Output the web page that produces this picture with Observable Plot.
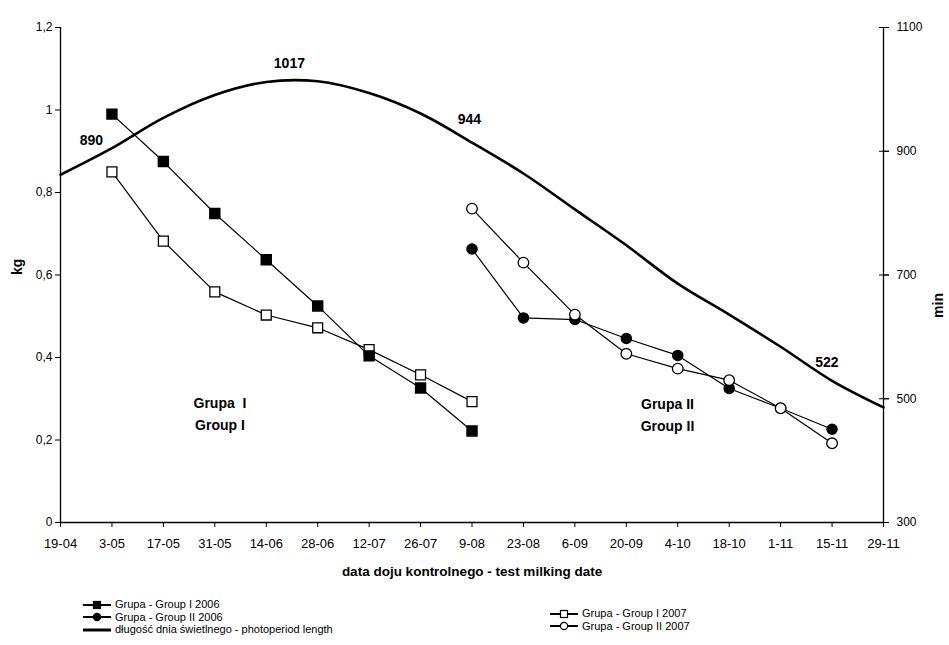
<!DOCTYPE html>
<html><head><meta charset="utf-8">
<script src="https://cdn.jsdelivr.net/npm/d3@7"></script>
<script src="https://cdn.jsdelivr.net/npm/@observablehq/plot@0.6"></script>
<style>
body{margin:0;background:#fff;font-family:"Liberation Sans",Arial,sans-serif;}
#wrap{position:relative;width:949px;height:645px;overflow:hidden;}
#legend{position:absolute;left:0;top:590px;width:949px;height:55px;font-size:11px;line-height:11px;color:#000;}
.item{position:absolute;display:flex;align-items:center;white-space:nowrap;height:11px;}
.item svg{margin-right:4px;}
</style></head><body>
<div id="wrap"><div id="chart"></div><div id="legend"></div></div>
<script>
// ---- data ----
const dates = ["19-04","3-05","17-05","31-05","14-06","28-06","12-07","26-07","9-08","23-08","6-09","20-09","4-10","18-10","1-11","15-11","29-11"];
const photoperiodMin = [862, 905, 954, 991, 1012, 1013, 994, 961, 914, 864, 806, 748, 686, 636, 584, 529, 486];
const groupI2006 = [0.99, 0.875, 0.749, 0.637, 0.525, 0.404, 0.326, 0.222];   // from 3-05
const groupI2007 = [0.85, 0.682, 0.559, 0.503, 0.472, 0.419, 0.358, 0.293];   // from 3-05
const groupII2006 = [0.663, 0.496, 0.492, 0.446, 0.405, 0.325, 0.277, 0.226]; // from 9-08
const groupII2007 = [0.761, 0.630, 0.504, 0.409, 0.373, 0.345, 0.277, 0.192]; // from 9-08
const kgTicks = [0, 0.2, 0.4, 0.6, 0.8, 1, 1.2];
const minTicks = [300, 500, 700, 900, 1100];
const valueLabels = [
  {text: "890", i: 0.6, kg: 0.927},
  {text: "1017", i: 4.45, kg: 1.112},
  {text: "944", i: 7.95, kg: 0.978},
  {text: "522", i: 14.9, kg: 0.387}
];
const groupLabels = [
  {text: "Grupa  I", i: 3.1, kg: 0.289},
  {text: "Group I", i: 3.1, kg: 0.235},
  {text: "Grupa II", i: 11.8, kg: 0.285},
  {text: "Group II", i: 11.8, kg: 0.232}
];
const legendNames = {
  g1_2006: "Grupa - Group I 2006",
  g2_2006: "Grupa - Group II 2006",
  photo: "długość dnia świetlnego - photoperiod length",
  g1_2007: "Grupa - Group I 2007",
  g2_2007: "Grupa - Group II 2007"
};

// ---- helpers ----
const minToKg = m => (m - 300) / 800 * 1.2;
const kgToMin = k => String(Math.round(300 + k / 1.2 * 800));
const toRows = (vals, start) => vals.map((v, j) => ({i: start + j, kg: v}));
const photo = photoperiodMin.map((m, i) => ({i, kg: minToKg(m)}));
const s1 = toRows(groupI2006, 1), s2 = toRows(groupI2007, 1);
const s3 = toRows(groupII2006, 8), s4 = toRows(groupII2007, 8);
const last = dates.length - 1;
const axisStyle = {stroke: "#000", strokeWidth: 1.3};

const chart = Plot.plot({
  width: 949, height: 590,
  marginLeft: 60, marginRight: 66, marginTop: 27, marginBottom: 68,
  style: {fontFamily: "'Liberation Sans', Arial, sans-serif", fontSize: "13px", color: "#000", background: "#fff"},
  x: {type: "linear", domain: [0, last], axis: null},
  y: {domain: [0, 1.2], axis: null},
  marks: [
    Plot.ruleY([0], axisStyle),
    Plot.ruleX([0], axisStyle),
    Plot.ruleX([last], axisStyle),
    Plot.axisX(d3.range(dates.length), {anchor: "bottom", tickSize: 5, tickPadding: 11, tickFormat: i => dates[i], label: null, fontSize: 13}),
    Plot.axisY(kgTicks, {anchor: "left", tickSize: 5, tickPadding: 3, tickFormat: d => String(d).replace(".", ","), label: null, fontSize: 12}),
    Plot.axisY(minTicks.map(minToKg), {anchor: "right", tickSize: 5, tickPadding: 8, tickFormat: kgToMin, label: null, fontSize: 12}),
    Plot.axisY(minTicks.map(minToKg), {anchor: "right", tickSize: 10, dx: -5, tickFormat: () => "", label: null}),
    Plot.line(photo, {x: "i", y: "kg", stroke: "#000", strokeWidth: 2.6, curve: "catmull-rom"}),
    Plot.line(s1, {x: "i", y: "kg", stroke: "#000", strokeWidth: 1.2}),
    Plot.line(s2, {x: "i", y: "kg", stroke: "#000", strokeWidth: 1.2}),
    Plot.line(s3, {x: "i", y: "kg", stroke: "#000", strokeWidth: 1.2}),
    Plot.line(s4, {x: "i", y: "kg", stroke: "#000", strokeWidth: 1.2}),
    Plot.dot(s2, {x: "i", y: "kg", symbol: "square", r: 5.6, fill: "#fff", stroke: "#000", strokeWidth: 1.3}),
    Plot.dot(s1, {x: "i", y: "kg", symbol: "square", r: 5.6, fill: "#000", stroke: "#000"}),
    Plot.dot(s3, {x: "i", y: "kg", symbol: "circle", r: 5, fill: "#000", stroke: "#000"}),
    Plot.dot(s4, {x: "i", y: "kg", symbol: "circle", r: 5.3, fill: "#fff", stroke: "#000", strokeWidth: 1.3}),
    Plot.text(valueLabels, {x: "i", y: "kg", text: "text", fontWeight: "bold", fontSize: 14}),
    Plot.text(groupLabels, {x: "i", y: "kg", text: "text", fontWeight: "bold", fontSize: 14}),
    Plot.text(["kg"], {frameAnchor: "left", dx: -43, rotate: -90, fontWeight: "bold", fontSize: 14}),
    Plot.text(["min"], {frameAnchor: "right", dx: 55, dy: 18, rotate: -90, fontWeight: "bold", fontSize: 14}),
    Plot.text(["data doju kontrolnego - test milking date"], {frameAnchor: "bottom", dy: 53, fontWeight: "bold", fontSize: 13.5})
  ]
});
document.getElementById("chart").appendChild(chart);

// ---- legend ----
function swatch(kind) {
  const ns = "http://www.w3.org/2000/svg";
  const svg = document.createElementNS(ns, "svg");
  svg.setAttribute("width", 28); svg.setAttribute("height", 10);
  const line = document.createElementNS(ns, "line");
  line.setAttribute("x1", 0); line.setAttribute("x2", 28);
  line.setAttribute("y1", 5); line.setAttribute("y2", 5);
  line.setAttribute("stroke", "#000");
  line.setAttribute("stroke-width", kind === "photo" ? 3 : 2);
  svg.appendChild(line);
  if (kind !== "photo") {
    let m;
    if (kind.startsWith("g1")) {
      m = document.createElementNS(ns, "rect");
      m.setAttribute("x", 10.5); m.setAttribute("y", 1.5);
      m.setAttribute("width", 7); m.setAttribute("height", 7);
    } else {
      m = document.createElementNS(ns, "circle");
      m.setAttribute("cx", 14); m.setAttribute("cy", 5); m.setAttribute("r", 3.6);
    }
    m.setAttribute("fill", kind.endsWith("2006") ? "#000" : "#fff");
    m.setAttribute("stroke", "#000"); m.setAttribute("stroke-width", 1.2);
    svg.appendChild(m);
  }
  return svg;
}
const legendLayout = [
  {key: "g1_2006", left: 83, top: 15},
  {key: "g2_2006", left: 83, top: 27.5},
  {key: "photo", left: 83, top: 40},
  {key: "g1_2007", left: 550, top: 24},
  {key: "g2_2007", left: 550, top: 36.5}
];
const legend = document.getElementById("legend");
legendLayout.forEach(d => {
  const div = document.createElement("div");
  div.className = "item";
  div.style.left = d.left + "px";
  div.style.top = (d.top - 6) + "px";
  div.appendChild(swatch(d.key));
  const span = document.createElement("span");
  span.textContent = legendNames[d.key];
  div.appendChild(span);
  legend.appendChild(div);
});
</script>
</body></html>
